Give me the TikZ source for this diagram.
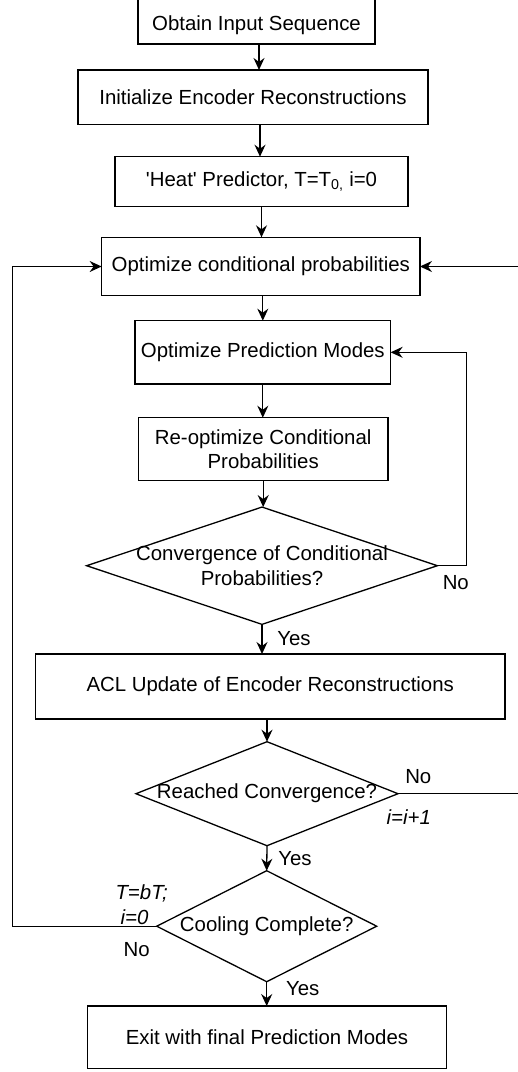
\documentclass[tikz,border=0pt]{standalone}
\usepackage{fontspec}
\setmainfont{Liberation Sans}[Ligatures=TeXOff]
\usetikzlibrary{arrows.meta}
\begin{document}
\begin{tikzpicture}[x=1pt,y=-1pt,
  every node/.style={font=\fontsize{20.4}{24.5}\selectfont, outer sep=0pt},
  box/.style={draw, line width=1.3pt, inner sep=0pt, align=center},
  decision/.style={inner sep=0pt, align=center},
  lbl/.style={inner sep=0pt},
  lbli/.style={inner sep=0pt, font=\fontsize{20.4}{24.5}\selectfont\itshape},
  arr/.style={line width=1.3pt, -{Stealth[length=12pt,width=11pt,inset=4pt]}},
  wire/.style={line width=1.3pt}]
\clip (0,0) rectangle (518,1072);
\fill[white] (0,0) rectangle (518,1072);

% process boxes
\node[inner sep=0pt, minimum width=237, minimum height=38] (b1) at (256.5,25) {Obtain Input Sequence};
\draw[wire] ([yshift=20pt]b1.north west) rectangle (b1.south east);
\node[box, minimum width=350, minimum height=54.7] (b2) at (253,97.3) {Initialize Encoder Reconstructions};
\node[box, minimum width=293, minimum height=50] (b3) at (261.5,181.7) {'Heat' Predictor, T=T\textsubscript{0,} i=0};
\node[box, minimum width=318.3, minimum height=58.4] (b4) at (260.8,266.5) {Optimize conditional probabilities};
\node[box, minimum width=255.7, minimum height=63.3] (b5) at (262.8,352.3) {Optimize Prediction Modes};
\node[box, minimum width=249.7, minimum height=63] (b6) at (263.2,449.2) {Re-optimize Conditional\\Probabilities};
\node[decision, minimum width=350.7, minimum height=117.3] (d1) at (262,565.7) {Convergence of Conditional\\Probabilities?};
\node[box, minimum width=469.7, minimum height=65] (b7) at (270.2,686.5) {ACL Update of Encoder Reconstructions};
\node[decision, minimum width=262, minimum height=104] (d2) at (267,793.7) {Reached Convergence?};
\node[decision, minimum width=220, minimum height=111] (d3) at (266.7,926.2) {Cooling Complete?};
\node[box, minimum width=359.4, minimum height=62.3] (b8) at (267,1037.2) {Exit with final Prediction Modes};

% diamonds
\foreach \d in {d1,d2,d3}
  \draw[wire] (\d.north) -- (\d.east) -- (\d.south) -- (\d.west) -- cycle;

% straight arrows
\draw[arr] ([xshift=2.5pt]b1.south) -- ([xshift=2.5pt]b1.south |- b2.north);
\draw[arr] ([xshift=7pt]b2.south) -- ([xshift=7pt]b2.south |- b3.north);
\draw[arr] (b3.south) -- (b3.south |- b4.north);
\draw[arr] ([xshift=2pt]b4.south) -- ([xshift=2pt]b4.south |- b5.north);
\draw[arr] (b5.south) -- (b5.south |- b6.north);
\draw[arr] (b6.south) -- (b6.south |- d1.north);
\draw[arr] (d1.south) -- (d1.south |- b7.north);
\draw[arr] (b7.south -| d2.north) -- (d2.north);
\draw[arr] (d2.south) -- (d3.north);
\draw[arr] (d3.south) -- (d3.south |- b8.north);

% loops
\coordinate (R1) at (466.7,352.3);
\draw[arr] (d1.east) -| (R1) -- (b5.east);
\coordinate (R2) at (540,266.5);
\draw[arr] (d2.east) -| (R2) -- (b4.east);
\coordinate (L) at (12.7,266.5);
\draw[arr] (d3.west) -| (L) -- (b4.west);

% labels
\node[lbl] (l1) at (455.8,583) {No};
\node[lbl] (l2) at (294,639) {Yes};
\node[lbl] (l3) at (418.3,777) {No};
\node[lbli] (l4) at (408.8,816.7) {i=i+1};
\node[lbl] (l5) at (295,858.7) {Yes};
\node[lbli] (l6) at (141.7,893) {T=bT;};
\node[lbli] (l7) at (134.5,916.7) {i=0};
\node[lbl] (l8) at (136.7,950) {No};
\node[lbl] (l9) at (302.7,989) {Yes};
\end{tikzpicture}
\end{document}
